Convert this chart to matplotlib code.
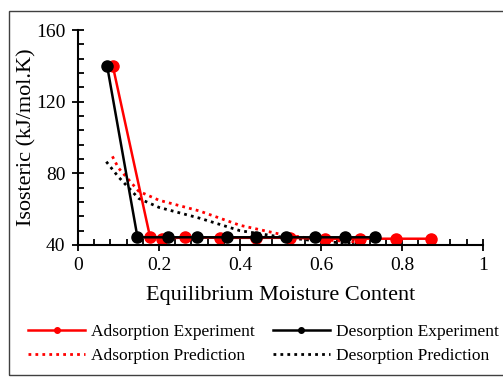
import matplotlib.pyplot as plt
from matplotlib.patches import Rectangle
from matplotlib.ticker import MultipleLocator

plt.rcParams['font.family'] = ['Liberation Serif', 'DejaVu Serif']

# ----------- DATA -------------
ads_x = [0.086, 0.178, 0.207, 0.264, 0.35, 0.44, 0.523, 0.61, 0.696, 0.785, 0.872]
ads_y = [140, 44.5, 43.5, 44.2, 44.0, 44.0, 44.0, 43.5, 43.5, 43.5, 43.5]

des_x = [0.072, 0.147, 0.223, 0.295, 0.367, 0.44, 0.513, 0.585, 0.659, 0.733]
des_y = [140, 44.3, 44.3, 44.3, 44.3, 44.3, 44.3, 44.3, 44.3, 44.3]

ads_pred_x = [0.085, 0.1, 0.15, 0.2, 0.25, 0.3, 0.4, 0.5, 0.6, 0.7]
ads_pred_y = [89.5, 83, 70, 65, 62, 59, 51, 46, 43, 41.5]

des_pred_x = [0.07, 0.1, 0.15, 0.2, 0.25, 0.3, 0.4, 0.5, 0.6, 0.7]
des_pred_y = [86.5, 78, 66, 61, 58, 55, 48, 44.5, 42, 40.5]

# ----------- PLOT -------------
fig = plt.figure(figsize=(5.03, 3.81), dpi=100)
ax = fig.add_axes([0.155, 0.357, 0.805, 0.564])

# outer chart-area border
fig.patches.append(Rectangle((9 / 503, 6 / 381), 1.0, 1 - 17 / 381,
                             transform=fig.transFigure, fill=False,
                             edgecolor='#404040', linewidth=1.0))

ax.plot(ads_pred_x, ads_pred_y, color='red', linestyle=(0, (1, 1.5)), linewidth=2,
        label='Adsorption Prediction')
ax.plot(des_pred_x, des_pred_y, color='black', linestyle=(0, (1, 1.5)), linewidth=2,
        label='Desorption Prediction')
ax.plot(ads_x, ads_y, color='red', marker='o', markersize=8, linewidth=1.8,
        label='Adsorption Experiment')
ax.plot(des_x, des_y, color='black', marker='o', markersize=8, linewidth=1.8,
        label='Desorption Experiment')

ax.set_xlim(0, 1)
ax.set_ylim(40, 160)
ax.xaxis.set_major_locator(MultipleLocator(0.2))
ax.xaxis.set_minor_locator(MultipleLocator(0.04))
ax.yaxis.set_major_locator(MultipleLocator(40))
ax.yaxis.set_minor_locator(MultipleLocator(8))
ax.set_xticks([0, 0.2, 0.4, 0.6, 0.8, 1.0])
ax.set_xticklabels(['0', '0.2', '0.4', '0.6', '0.8', '1'])

ax.tick_params(axis='both', which='major', direction='inout', length=8, width=1.3,
               labelsize=14, pad=5)
ax.tick_params(axis='both', which='minor', direction='in', length=4, width=1.3)

for s in ['top', 'right']:
    ax.spines[s].set_visible(False)
for s in ['left', 'bottom']:
    ax.spines[s].set_linewidth(1.5)

ax.set_xlabel('Equilibrium Moisture Content', fontsize=16, labelpad=8)
ax.set_ylabel('Isosteric (kJ/mol.K)', fontsize=16)
ax.yaxis.set_label_coords(-0.102, 0.5)

handles, labels = ax.get_legend_handles_labels()
order = [2, 0, 3, 1]
leg = fig.legend([handles[i] for i in order], [labels[i] for i in order],
                 ncol=2, loc='upper left',
                 bbox_to_anchor=(0.042, 0.168), frameon=False, fontsize=12.5,
                 handlelength=3.3, handletextpad=0.35, columnspacing=1.0,
                 labelspacing=0.45, borderaxespad=0)
for line in leg.get_lines():
    line.set_markersize(4)

fig.savefig('out.png', dpi=100)
